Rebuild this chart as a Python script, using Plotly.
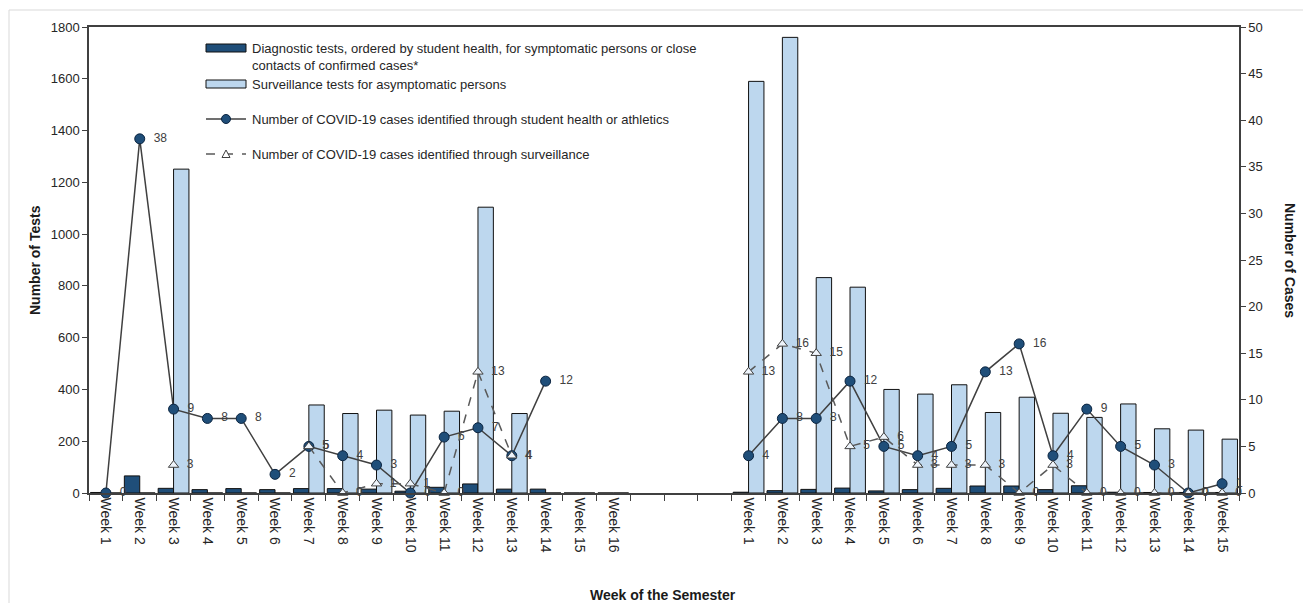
import plotly.graph_objects as go

# ---- data ----
week_labels = ["Week 1", "Week 2", "Week 3", "Week 4", "Week 5", "Week 6", "Week 7", "Week 8",
               "Week 9", "Week 10", "Week 11", "Week 12", "Week 13", "Week 14", "Week 15", "Week 16",
               "", "", "",
               "Week 1", "Week 2", "Week 3", "Week 4", "Week 5", "Week 6", "Week 7", "Week 8",
               "Week 9", "Week 10", "Week 11", "Week 12", "Week 13", "Week 14", "Week 15"]

diagnostic_tests = [2, 66, 18, 13, 17, 13, 17, 17, 15, 7, 22, 35, 15, 15, 0, 0,
                    None, None, None,
                    3, 9, 14, 19, 8, 13, 18, 27, 27, 13, 28, 3, 2, 2, 2]

surveillance_tests = [0, 0, 1251, 0, 0, 0, 340, 307, 320, 301, 316, 1104, 307, 0, 0, 0,
                      None, None, None,
                      1590, 1760, 832, 795, 400, 382, 418, 311, 370, 308, 292, 344, 248, 243, 208]

cases_student_health = [0, 38, 9, 8, 8, 2, 5, 4, 3, 0, 6, 7, 4, 12, None, None,
                        None, None, None,
                        4, 8, 8, 12, 5, 4, 5, 13, 16, 4, 9, 5, 3, 0, 1]

cases_surveillance = [None, None, 3, None, None, None, 5, 0, 1, 1, 0, 13, 4, None, None, None,
                      None, None, None,
                      13, 16, 15, 5, 6, 3, 3, 3, 0, 3, 0, 0, 0, 0, 0]

series_names = [
    "Diagnostic tests, ordered by student health, for symptomatic persons or close<br>contacts of confirmed cases*",
    "Surveillance tests for asymptomatic persons",
    "Number of COVID-19 cases identified through student health or athletics",
    "Number of COVID-19 cases identified through surveillance",
]

x_pos = list(range(len(week_labels)))

FONT = "Liberation Sans, Arial, sans-serif"
TXT = "#262626"
PAD = "\u00a0\u00a0"
DARK = "#1F4E79"
LIGHT = "#BDD7EE"
TRI_FILL = "#EEF4FB"

def lbl(vals):
    return ["" if v is None else PAD + str(v) for v in vals]

fig = go.Figure()

fig.add_trace(go.Bar(
    x=x_pos, y=diagnostic_tests, name=series_names[0],
    marker=dict(color=DARK, line=dict(color="#111111", width=1)),
))
fig.add_trace(go.Bar(
    x=x_pos, y=surveillance_tests, name=series_names[1],
    marker=dict(color=LIGHT, line=dict(color="#111111", width=1)),
))
fig.add_trace(go.Scatter(
    x=x_pos, y=cases_student_health, yaxis="y2", name=series_names[2],
    mode="lines+markers+text",
    text=lbl(cases_student_health), textposition="middle right",
    textfont=dict(family=FONT, size=12, color="#404040"),
    line=dict(color="#404040", width=1.5),
    marker=dict(symbol="circle", size=10, color=DARK, line=dict(color="#0B2440", width=1)),
    connectgaps=False, cliponaxis=False,
))
fig.add_trace(go.Scatter(
    x=x_pos, y=cases_surveillance, yaxis="y2", name=series_names[3],
    mode="lines+markers+text",
    text=lbl(cases_surveillance), textposition="middle right",
    textfont=dict(family=FONT, size=12, color="#404040"),
    line=dict(color="#595959", width=1.5, dash="dash"),
    marker=dict(symbol="triangle-up", size=9, color=TRI_FILL, line=dict(color="#404040", width=1)),
    connectgaps=False, cliponaxis=False,
))

# ---- manual legend (pixel geometry of the plot area: x 89..1239, y 27..493) ----
PW, PH, PL, PB = 1150.0, 466.0, 89.0, 493.0
def px(x):
    return (x - PL) / PW
def py(y):
    return (PB - y) / PH

shapes = [dict(type="rect", xref="paper", yref="paper",
               x0=px(9), x1=px(1305), y0=py(613), y1=py(10),
               line=dict(color="#D9D9D9", width=1), layer="below")]
annotations = []

sym_x0, sym_x1, text_x = 206, 246, 250
rows = [57, 84, 119, 154]
sym_y = [48, 84, 119, 154]

# bar symbols
for fill, yc in ((DARK, sym_y[0]), (LIGHT, sym_y[1])):
    shapes.append(dict(type="rect", xref="paper", yref="paper",
                       x0=px(sym_x0), x1=px(sym_x1), y0=py(yc + 4), y1=py(yc - 4),
                       fillcolor=fill, line=dict(color="#111111", width=1)))
# line symbols
shapes.append(dict(type="line", xref="paper", yref="paper",
                   x0=px(sym_x0), x1=px(sym_x1), y0=py(sym_y[2]), y1=py(sym_y[2]),
                   line=dict(color="#404040", width=1.5)))
shapes.append(dict(type="circle", xref="paper", yref="paper",
                   x0=px(221.5), x1=px(230.5), y0=py(sym_y[2] + 4.5), y1=py(sym_y[2] - 4.5),
                   fillcolor=DARK, line=dict(color="#0B2440", width=1)))
shapes.append(dict(type="line", xref="paper", yref="paper",
                   x0=px(sym_x0), x1=px(sym_x1), y0=py(sym_y[3]), y1=py(sym_y[3]),
                   line=dict(color="#595959", width=1.5, dash="dash")))
tri = "M {a},{b} L {c},{d} L {e},{f} Z".format(
    a=px(222), b=py(sym_y[3] + 3.5), c=px(230), d=py(sym_y[3] + 3.5),
    e=px(226), f=py(sym_y[3] - 4))
shapes.append(dict(type="path", xref="paper", yref="paper", path=tri,
                   fillcolor="white", line=dict(color="#404040", width=1)))

for name, yc in zip(series_names, rows):
    annotations.append(dict(text=name, xref="paper", yref="paper", x=px(text_x), y=py(yc),
                            xanchor="left", yanchor="middle", align="left", showarrow=False,
                            font=dict(size=13, color=TXT)))

annotations += [
    dict(text="<b>Number of Tests</b>", xref="paper", yref="paper", x=px(35), y=0.5,
         textangle=-90, showarrow=False, font=dict(size=14, color="#1a1a1a"),
         xanchor="center", yanchor="middle"),
    dict(text="<b>Number of Cases</b>", xref="paper", yref="paper", x=px(1290), y=0.5,
         textangle=90, showarrow=False, font=dict(size=14, color="#1a1a1a"),
         xanchor="center", yanchor="middle"),
    dict(text="<b>Week of the Semester</b>", xref="paper", yref="paper", x=px(663),
         y=py(595), showarrow=False, font=dict(size=14, color="#1a1a1a"),
         xanchor="center", yanchor="middle"),
]

n = len(week_labels)
fig.update_layout(
    width=1303, height=595,
    margin=dict(l=81, r=72, t=19, b=110),
    paper_bgcolor="white", plot_bgcolor="white",
    font=dict(family=FONT, size=13, color=TXT),
    barmode="group", bargap=0.09, bargroupgap=0,
    showlegend=False,
    xaxis=dict(range=[-0.5, n - 0.5], tickmode="array", tickvals=x_pos, ticktext=week_labels,
               tickangle=90, ticks="", showgrid=False, zeroline=False,
               showline=True, linecolor="#404040", linewidth=1.5, mirror=True,
               tickfont=dict(size=14, color=TXT),
               minor=dict(tickmode="linear", tick0=-0.5, dtick=1, ticks="outside",
                          ticklen=6, tickcolor="#404040", tickwidth=1, showgrid=False)),
    yaxis=dict(range=[0, 1800], dtick=200, ticks="outside", ticklen=5, tickcolor="#404040",
               showgrid=False, zeroline=False, showline=True, linecolor="#404040",
               linewidth=1.5, mirror=True, tickfont=dict(size=13, color=TXT)),
    yaxis2=dict(range=[0, 50], dtick=5, overlaying="y", side="right", ticks="outside",
                ticklen=5, tickcolor="#404040", showgrid=False, zeroline=False,
                showline=True, linecolor="#404040", linewidth=1.5,
                tickfont=dict(size=13, color=TXT)),
    shapes=shapes,
    annotations=annotations,
)

fig.write_html("out.html")
